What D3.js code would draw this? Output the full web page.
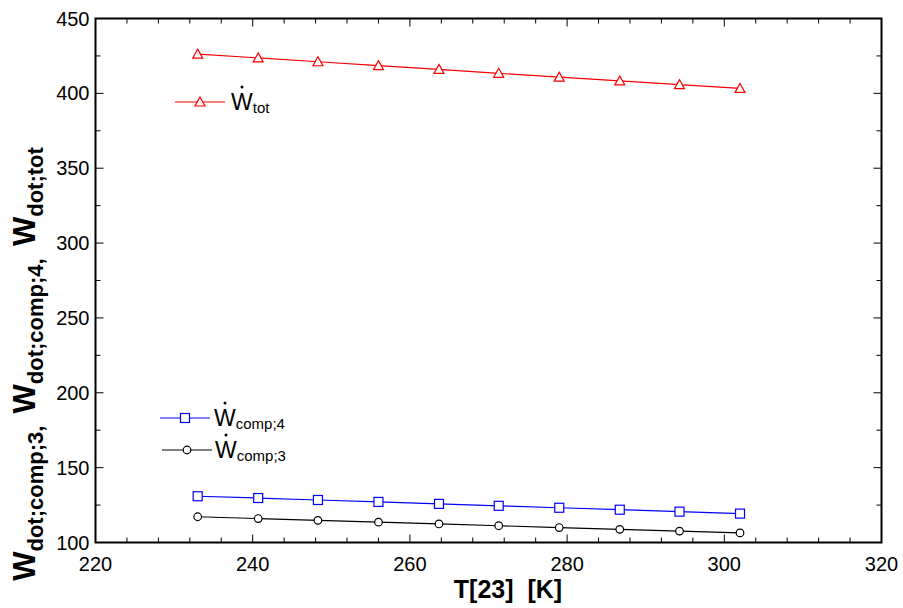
<!DOCTYPE html>
<html><head><meta charset="utf-8">
<script src="https://cdn.jsdelivr.net/npm/d3@7"></script>
<style>body{margin:0;background:#fff}svg{display:block;font-family:"Liberation Sans",Arial,sans-serif}text{white-space:pre}</style>
</head><body>
<svg id="c" width="903" height="608"></svg>
<script>
const temps = [233, 240.7, 248.3, 256, 263.7, 271.3, 279, 286.7, 294.3, 302];
const wTot = [426.2, 423.7, 421.1, 418.5, 416.0, 413.4, 410.8, 408.3, 405.8, 403.3];
const wComp4 = [130.9, 129.7, 128.4, 127.1, 125.8, 124.5, 123.2, 121.9, 120.6, 119.3];
const wComp3 = [117.2, 116.0, 114.8, 113.6, 112.4, 111.2, 110.0, 108.8, 107.6, 106.4];
const xTicks = [220, 240, 260, 280, 300, 320];
const yTicks = [100, 150, 200, 250, 300, 350, 400, 450];

const svg = d3.select("#c");
const L = 95.5, R = 881.5, T = 18.5, B = 542.5;
const x = d3.scaleLinear().domain([220, 320]).range([L, R]);
const y = d3.scaleLinear().domain([100, 450]).range([B, T]);

svg.append("rect").attr("x", L).attr("y", T).attr("width", R - L).attr("height", B - T)
  .attr("fill", "none").attr("stroke", "#000").attr("stroke-width", 2);

const xMinor = d3.range(220, 320.01, 4);
const yMinor = d3.range(100, 450.01, 25);
const g = svg.append("g").attr("stroke", "#000").attr("stroke-width", 1);
xMinor.forEach(v => {
  const len = xTicks.includes(Math.round(v)) ? 8 : 5;
  g.append("line").attr("x1", x(v)).attr("x2", x(v)).attr("y1", B).attr("y2", B - len);
  g.append("line").attr("x1", x(v)).attr("x2", x(v)).attr("y1", T).attr("y2", T + len);
});
yMinor.forEach(v => {
  const len = yTicks.includes(v) ? 8 : 5;
  g.append("line").attr("y1", y(v)).attr("y2", y(v)).attr("x1", L).attr("x2", L + len);
  g.append("line").attr("y1", y(v)).attr("y2", y(v)).attr("x1", R).attr("x2", R - len);
});

svg.append("g").selectAll("text").data(xTicks).join("text")
  .attr("x", d => x(d)).attr("y", B + 28).attr("text-anchor", "middle")
  .attr("font-size", 20).text(d => d);
svg.append("g").selectAll("text").data(yTicks).join("text")
  .attr("x", L - 6).attr("y", d => y(d) + 7).attr("text-anchor", "end")
  .attr("font-size", 20).text(d => d);

svg.append("text").attr("x", 508).attr("y", 598).attr("text-anchor", "middle")
  .attr("font-size", 25).attr("font-weight", "bold").text("T[23]  [K]");
const yt = svg.append("text").attr("transform", "translate(35,364) rotate(-90)")
  .attr("text-anchor", "middle").attr("font-weight", "bold");
[["W", "dot;comp;3,", "  "], ["W", "dot;comp;4,", "  "], ["W", "dot;tot", ""]].forEach(p => {
  yt.append("tspan").attr("font-size", 31).text(p[0]);
  yt.append("tspan").attr("font-size", 22).attr("dy", 8).text(p[1]);
  yt.append("tspan").attr("font-size", 22).attr("dy", -8).text(p[2]);
});

const series = [
  {vals: wTot, color: "#ff0000", sym: "tri", lab: "tot", lx: [175, 225], ly: 102, tx: 231},
  {vals: wComp4, color: "#0000ff", sym: "sq", lab: "comp;4", lx: [160, 210], ly: 418, tx: 214},
  {vals: wComp3, color: "#000000", sym: "circ", lab: "comp;3", lx: [162, 212], ly: 450, tx: 215}
];
function marker(sel, s, cx, cy) {
  if (s.sym === "tri") {
    sel.append("path").attr("d", `M${cx},${cy - 5}L${cx + 5},${cy + 4}L${cx - 5},${cy + 4}Z`)
      .attr("fill", "#fff").attr("stroke", s.color).attr("stroke-width", 1.2);
  } else if (s.sym === "sq") {
    sel.append("rect").attr("x", cx - 4.5).attr("y", cy - 4.5).attr("width", 9).attr("height", 9)
      .attr("fill", "#fff").attr("stroke", s.color).attr("stroke-width", 1.2);
  } else {
    sel.append("circle").attr("cx", cx).attr("cy", cy).attr("r", 3.8)
      .attr("fill", "#fff").attr("stroke", s.color).attr("stroke-width", 1.2);
  }
}
const line = d3.line().x((d, i) => x(temps[i])).y(d => y(d));
series.forEach(s => {
  svg.append("path").datum(s.vals).attr("d", line).attr("fill", "none")
    .attr("stroke", s.color).attr("stroke-width", 1.2);
  const mg = svg.append("g");
  s.vals.forEach((v, i) => marker(mg, s, x(temps[i]), y(v)));
  svg.append("line").attr("x1", s.lx[0]).attr("x2", s.lx[1]).attr("y1", s.ly).attr("y2", s.ly)
    .attr("stroke", s.color).attr("stroke-width", 1.2);
  marker(svg, s, (s.lx[0] + s.lx[1]) / 2, s.ly);
  const t = svg.append("text").attr("x", s.tx).attr("y", s.ly + 8);
  t.append("tspan").attr("font-size", 23).text("W");
  t.append("tspan").attr("font-size", 15).attr("dy", 3).text(s.lab);
  svg.append("circle").attr("cx", s.tx + 11).attr("cy", s.ly - 15).attr("r", 1.5).attr("fill", "#000");
});
</script>
</body></html>
